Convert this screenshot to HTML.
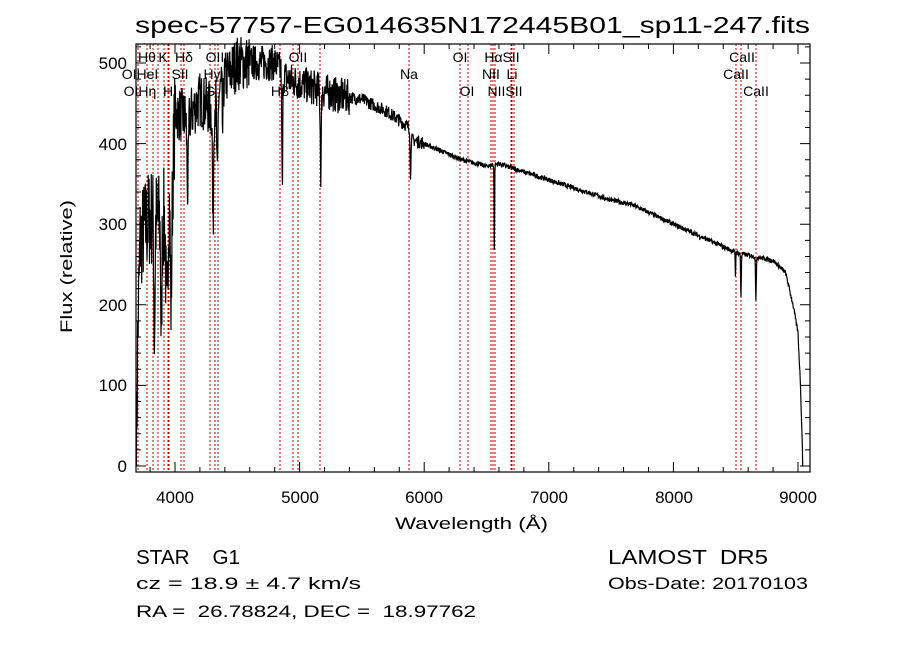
<!DOCTYPE html>
<html><head><meta charset="utf-8"><style>
body{margin:0;background:#fff;}
svg text{font-family:"Liberation Sans",sans-serif;fill:#000;}
</style></head><body>
<svg id="s" width="900" height="649" xmlns="http://www.w3.org/2000/svg">
<rect width="900" height="649" fill="#fff"/>
<g id="red" stroke="#c00000" stroke-width="1" stroke-dasharray="2,2"></g>
<path id="spec" fill="none" stroke="#000" stroke-width="1.2"/>
<rect x="136" y="44" width="674" height="428" fill="none" stroke="#000" stroke-width="1.2"/>
<g id="ticks" stroke="#000" stroke-width="1"></g>
<g id="lab" font-size="14"></g>
<text x="135" y="33" font-size="23" textLength="675" lengthAdjust="spacingAndGlyphs">spec-57757-EG014635N172445B01_sp11-247.fits</text>
<g font-size="17" text-anchor="middle">
<text x="175" y="503">4000</text><text x="300" y="503">5000</text><text x="424" y="503">6000</text><text x="549" y="503">7000</text><text x="674" y="503">8000</text><text x="798" y="503">9000</text>
</g>
<text x="395" y="529" font-size="17" textLength="153" lengthAdjust="spacingAndGlyphs">Wavelength (Å)</text>
<g font-size="17" text-anchor="end">
<text x="127" y="472">0</text><text x="127" y="391">100</text><text x="127" y="311">200</text><text x="127" y="230">300</text><text x="127" y="150">400</text><text x="127" y="69">500</text>
</g>
<text transform="translate(72,333) rotate(-90)" font-size="17" textLength="133" lengthAdjust="spacingAndGlyphs">Flux (relative)</text>
<text x="136" y="564" font-size="20" textLength="104" lengthAdjust="spacingAndGlyphs" xml:space="preserve">STAR    G1</text>
<text x="608" y="564" font-size="20" textLength="160" lengthAdjust="spacingAndGlyphs" xml:space="preserve">LAMOST  DR5</text>
<text x="136" y="589" font-size="17" textLength="225" lengthAdjust="spacingAndGlyphs">cz = 18.9 ± 4.7 km/s</text>
<text x="608" y="589" font-size="17" textLength="200" lengthAdjust="spacingAndGlyphs">Obs-Date: 20170103</text>
<text x="136" y="617" font-size="17" textLength="340" lengthAdjust="spacingAndGlyphs" xml:space="preserve">RA =  26.78824, DEC =  18.97762</text>
</svg>
<script>
var X=function(l){return 175+(l-4000)*0.1246},Y=function(f){return 466-0.806*f};
function el(p,t,a,txt){var e=document.createElementNS('http://www.w3.org/2000/svg',t);for(var k in a)e.setAttribute(k,a[k]);if(txt)e.textContent=txt;document.getElementById(p).appendChild(e);}
var t='';
for(var l=3800;l<=9000;l+=200){var x=X(l),M=(l%1000==0)?10:5;t+='M'+x+' 472v-'+M+'M'+x+' 44v'+M;}
for(var f=0;f<=520;f+=20){var y=Y(f),M=(f%100==0)?10:5;t+='M136 '+y+'h'+M+'M810 '+y+'h-'+M;}
el('ticks','path',{d:t});
[138,147,153,158,164,168,169,181,184,210,215,218,280,293,298,320,409,460,468,491,493,495,511,512,514,736,741,756].forEach(function(x){el('red','line',{x1:x,x2:x,y1:44,y2:472});});
[[147,62,'Hθ'],[163,62,'K'],[184,62,'Hδ'],[215,62,'OII'],[298,62,'OII'],[460,62,'OI'],[502,62,'HαSII'],[742,62,'CaII'],
[140,79,'OIHeI'],[180,79,'SII'],[212,79,'Hγ'],[409,79,'Na'],[491,79,'NII'],[512,79,'Li'],[736,79,'CaII'],
[140,96,'OIHη'],[168,96,'H'],[210,96,'G'],[280,96,'Hβ'],[467,96,'OI'],[505,96,'NIISII'],[756,96,'CaII']].forEach(function(a){el('lab','text',{x:a[0],y:a[1],'text-anchor':'middle'},a[2]);});
var K=[[3690,0],[3700,150],[3720,280],[3800,310],[3900,300],[3980,350],[4000,440],[4100,430],[4200,455],[4300,440],[4400,480],[4500,500],[4800,500],[4900,480],[5100,470],[5300,460],[5500,455],[5700,440],[5880,420],[5900,405],[6000,400],[6300,380],[6500,372],[6600,375],[7000,355],[7500,330],[7650,325],[7700,322],[8000,300],[8500,265],[8800,255],[8900,240],[8960,200],[9000,165],[9020,100],[9040,0]];
var D=[[3934,150,10],[3968,140,8],[3890,150,6],[3835,150,6],[4102,90,8],[4305,150,6],[4340,110,6],[4383,60,5],[4861,150,5],[5170,100,6],[5890,60,4],[6563,110,3],[8542,55,4],[8662,55,4],[8498,30,3]];
function cont(l){for(var i=0;i<K.length-1;i++)if(l<=K[i+1][0]){var a=K[i],b=K[i+1];return a[1]+(b[1]-a[1])*(l-a[0])/(b[0]-a[0]);}return 0;}
var seed=7;function r(){seed=(seed*16807)%2147483647;return seed/2147483647-0.5;}
var d='';
for(var l=3690;l<=9040;l+=2.5){var f=cont(l);D.forEach(function(q){f-=q[1]*Math.exp(-Math.pow((l-q[0])/q[2],2));});
var n=l<4000?130:l<4600?70:l<5400?45:l<6000?16:6;f+=r()*n;if(f<0)f=0;if(l>9035)f=0;
d+=(d?'L':'M')+X(l).toFixed(1)+' '+Y(f).toFixed(1);}
document.getElementById('spec').setAttribute('d',d);
</script>
</body></html>
